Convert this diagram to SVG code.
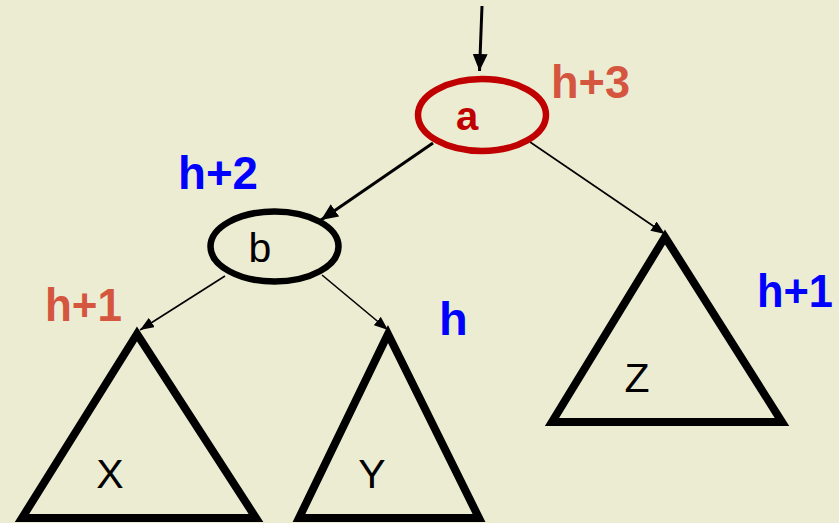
<svg xmlns="http://www.w3.org/2000/svg" width="839" height="523" viewBox="0 0 839 523">
<style>
.bg{fill:#ECECD3}
.node{fill:none;stroke-width:6.5}
.tri{fill:none;stroke:#000;stroke-width:8;stroke-linejoin:miter}
.lbl{font-family:"Liberation Sans",Arial,sans-serif;font-weight:bold;font-size:47px}
.red{fill:#D4563F}
.blue{fill:#0000FF}
.txt{font-family:"Liberation Sans",Arial,sans-serif;font-size:41px;fill:#000;text-anchor:middle}
.thick{stroke:#000;stroke-width:3;fill:none}
.thin{stroke:#000;stroke-width:1.6;fill:none}
</style>
<defs>
<marker id="ah" viewBox="0 0 10 10" refX="10" refY="5" markerUnits="userSpaceOnUse" markerWidth="17" markerHeight="15" orient="auto" preserveAspectRatio="none">
<path d="M0,0 L10,5 L0,10 z" fill="#000"/>
</marker>
<marker id="ahs" viewBox="0 0 10 10" refX="10" refY="5" markerUnits="userSpaceOnUse" markerWidth="14" markerHeight="11" orient="auto" preserveAspectRatio="none">
<path d="M0,0 L10,5 L0,10 z" fill="#000"/>
</marker>
</defs>
<rect class="bg" x="0" y="0" width="839" height="523"/>
<g id="connectors">
<line class="thick" x1="482" y1="6" x2="479.5" y2="71" marker-end="url(#ah)"/>
<line class="thick" x1="433" y1="143" x2="321" y2="220" marker-end="url(#ah)"/>
<line class="thin" x1="530" y1="142" x2="665" y2="234" marker-end="url(#ahs)"/>
<line class="thin" x1="225" y1="276" x2="140" y2="330" marker-end="url(#ahs)"/>
<line class="thin" x1="322" y1="275" x2="388" y2="330" marker-end="url(#ahs)"/>
</g>
<g id="node-a">
<ellipse class="node" cx="482" cy="115" rx="64" ry="36" stroke="#C00000"/>
<text x="467" y="130" class="lbl" style="font-size:40px;fill:#C00000" text-anchor="middle">a</text>
</g>
<g id="node-b">
<ellipse class="node" cx="274.5" cy="246.5" rx="64" ry="35" stroke="#000"/>
<text x="260" y="262" class="txt">b</text>
</g>
<g id="tree-x">
<polygon class="tri" points="137,334 22,518 256,518"/>
<text x="110" y="488" class="txt">X</text>
</g>
<g id="tree-y">
<polygon class="tri" points="388,334 299,518 479,518"/>
<text x="372" y="488" class="txt">Y</text>
</g>
<g id="tree-z">
<polygon class="tri" points="665,237 552,422 782,422"/>
<text x="637" y="392" class="txt">Z</text>
</g>
<g id="labels">
<text x="551" y="98" class="lbl red" textLength="79" lengthAdjust="spacingAndGlyphs">h+3</text>
<text x="178" y="189" class="lbl blue" textLength="80" lengthAdjust="spacingAndGlyphs">h+2</text>
<text x="45" y="321" class="lbl red" textLength="77" lengthAdjust="spacingAndGlyphs">h+1</text>
<text x="439" y="335" class="lbl blue">h</text>
<text x="757" y="307" class="lbl blue" textLength="76" lengthAdjust="spacingAndGlyphs">h+1</text>
</g>
</svg>
